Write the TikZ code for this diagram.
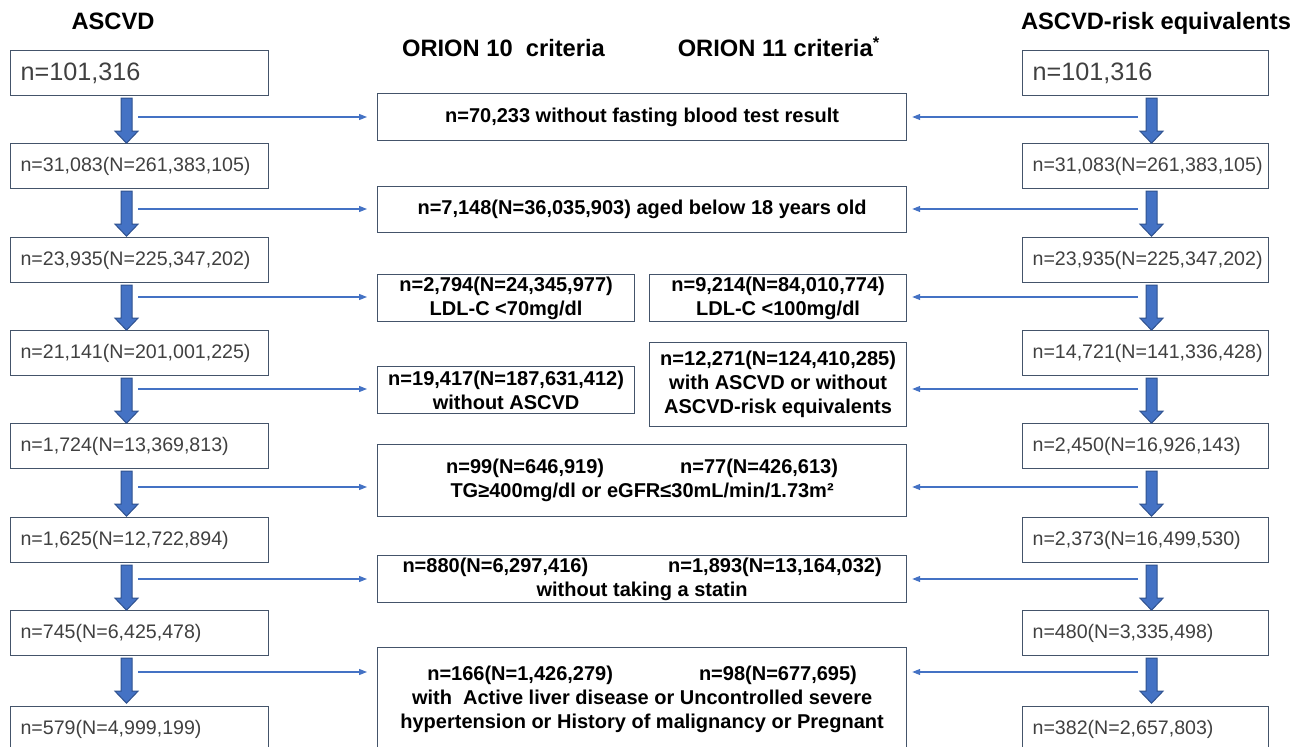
\documentclass[tikz,border=0pt]{standalone}
\usepackage{fontspec}
\setmainfont{Liberation Sans}
\usetikzlibrary{arrows.meta,positioning,calc}
\definecolor{boxline}{HTML}{44546A}
\definecolor{arrblue}{HTML}{4472C4}
\definecolor{arredge}{HTML}{2F528F}
\definecolor{numgray}{HTML}{404040}
\tikzset{
  countbox/.style={draw=boxline, line width=0.6pt, anchor=north west, minimum height=22.5pt,
    inner xsep=5pt, inner ysep=0pt, align=left, text=numgray, font=\fontsize{9.8}{12}\selectfont},
  exclbox/.style={draw=boxline, line width=0.6pt, anchor=north west, inner sep=0pt, align=center,
    font=\bfseries\fontsize{10}{12}\selectfont},
  header/.style={inner sep=0pt, anchor=base, font=\bfseries\fontsize{11.85}{14}\selectfont},
  blockarrow/.style={fill=arrblue, draw=arredge, line width=0.5pt},
  flowline/.style={draw=arrblue, line width=0.6pt, -{Triangle[length=4pt, width=3pt]}}
}
\begin{document}
\begin{tikzpicture}[x=0.5pt, y=-0.5pt]
    \useasboundingbox (0,0) rectangle (1309,747);
    \clip (0,0) rectangle (1309,747);
    % headers
    \node[header] (hascvd) at (113,30) {ASCVD};
    \node[header] (hrisk) at (1156,30) {ASCVD-risk equivalents};
    \node[header] (horionA) at (503.5,57) {ORION 10\ \ criteria};
    \node[header] (horionB) at (779,57) {ORION 11 criteria\textsuperscript{*}};
    % counts, both columns
    \node[countbox, text width=119pt, font=\fontsize{12.6}{14}\selectfont] (L1) at (10,50) {n=101,316};
    \node[countbox, text width=113pt, font=\fontsize{12.6}{14}\selectfont] (R1) at (1022,50) {n=101,316};
    \foreach \i/\top/\ltxt/\rtxt in {
        2/143/{n=31,083(N=261,383,105)}/{n=31,083(N=261,383,105)},
        3/237/{n=23,935(N=225,347,202)}/{n=23,935(N=225,347,202)},
        4/330/{n=21,141(N=201,001,225)}/{n=14,721(N=141,336,428)},
        5/423/{n=1,724(N=13,369,813)}/{n=2,450(N=16,926,143)},
        6/517/{n=1,625(N=12,722,894)}/{n=2,373(N=16,499,530)},
        7/610/{n=745(N=6,425,478)}/{n=480(N=3,335,498)},
        8/706/{n=579(N=4,999,199)}/{n=382(N=2,657,803)}}{
        \node[countbox, text width=119pt] (L\i) at (10,\top) {\ltxt};
        \node[countbox, text width=113pt] (R\i) at (1022,\top) {\rtxt};
    }
    % block arrows between counts
    \foreach \i in {1,...,7}{
        \foreach \s/\cx in {L/126.5, R/1151.5}{
            \path (\cx,0) coordinate (ax);
            \draw[blockarrow] (ax |- \s\i.south) ++(-5.5,2) -- ++(11,0) -- ++(0,33) -- ++(6,0)
                -- ++(-11.5,12) -- ++(-11.5,-12) -- ++(6,0) -- cycle;
        }
    }
    % exclusions
    \node[exclbox, minimum width=264.5pt, minimum height=23.5pt] (M1) at (377,93)
        {n=70,233 without fasting blood test result};
    \node[exclbox, minimum width=264.5pt, minimum height=23pt] (M2) at (377,186)
        {n=7,148(N=36,035,903) aged below 18 years old};
    \node[exclbox, minimum width=128.5pt, minimum height=23.5pt] (M3a) at (377,274)
        {n=2,794(N=24,345,977)\\LDL-C <70mg/dl};
    \node[exclbox, minimum width=128.5pt, minimum height=23.5pt] (M3b) at (649,274)
        {n=9,214(N=84,010,774)\\LDL-C <100mg/dl};
    \node[exclbox, minimum width=128.5pt, minimum height=23.5pt] (M4a) at (377,366)
        {n=19,417(N=187,631,412)\\without ASCVD};
    \node[exclbox, minimum width=128.5pt, minimum height=42pt] (M4b) at (649,342)
        {n=12,271(N=124,410,285)\\with ASCVD or without\\ASCVD-risk equivalents};
    \node[exclbox, minimum width=264.5pt, minimum height=36pt] (M5) at (377,444)
        {n=99(N=646,919)\hspace{38pt}n=77(N=426,613)\\TG≥400mg/dl or eGFR≤30mL/min/1.73m²};
    \node[exclbox, minimum width=264.5pt, minimum height=23.5pt] (M6) at (377,555)
        {n=880(N=6,297,416)\hspace{40pt}n=1,893(N=13,164,032)\\without taking a statin};
    \node[exclbox, minimum width=264.5pt, minimum height=52pt] (M7) at (377,647)
        {n=166(N=1,426,279)\hspace{43pt}n=98(N=677,695)\\with\ \ Active liver disease or Uncontrolled severe\\hypertension or History of malignancy or Pregnant};
    % thin arrows into the exclusions
    \foreach \y/\lt/\rt in {117/M1/M1, 209/M2/M2, 297/M3a/M3b, 389/M4a/M4b, 487/M5/M5, 579/M6/M6, 672/M7/M7}{
        \path (138,\y) coordinate (la) (1138,\y) coordinate (ra);
        \draw[flowline, shorten >=5pt] (la) -- (la -| \lt.west);
        \draw[flowline, shorten >=2.5pt] (ra) -- (ra -| \rt.east);
    }
\end{tikzpicture}
\end{document}
